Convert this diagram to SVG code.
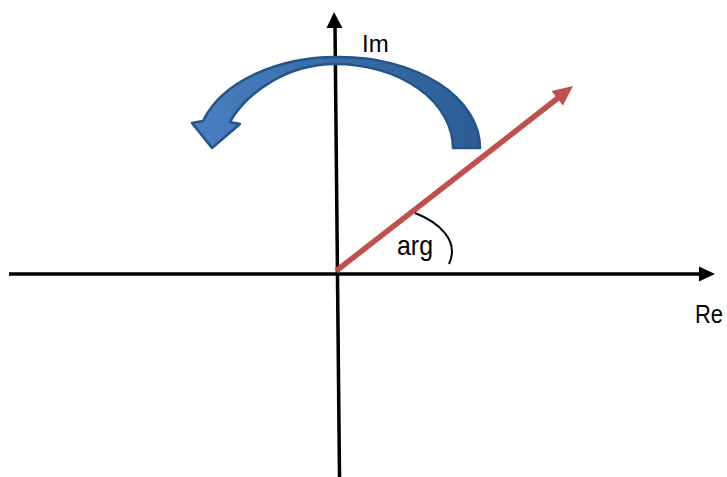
<svg xmlns="http://www.w3.org/2000/svg" width="727" height="477" viewBox="0 0 727 477">
<style>
.axis{stroke:#000;stroke-width:3.5;fill:none}
.head{fill:#000}
.lbl{font-family:"Liberation Sans",Arial,sans-serif;fill:#000}
</style>
<defs>
<linearGradient id="blue" x1="190" y1="0" x2="480" y2="0" gradientUnits="userSpaceOnUse">
<stop offset="0" stop-color="#4A80C2"/>
<stop offset="0.45" stop-color="#3A6DAA"/>
<stop offset="1" stop-color="#2C5D95"/>
</linearGradient>
</defs>
<rect width="727" height="477" fill="#fff"/>
<g id="connectors">
<g id="re-axis">
<line class="axis" x1="9" y1="274" x2="701" y2="274"/>
<polygon class="head" points="715,274 699,266.5 699,281.5"/>
</g>
<g id="im-axis">
<line class="axis" x1="339.5" y1="477" x2="335" y2="26"/>
<polygon class="head" points="334,12 326.5,28 342.5,28"/>
</g>
<g id="vector">
<line x1="336" y1="271" x2="558" y2="98" stroke="#C0504D" stroke-width="5.5"/>
<polygon points="573,86 551.5,91 562.9,105.6" fill="#C0504D"/>
</g>
<path id="arg-arc" d="M415,213 C438,222 460,240 449,264" fill="none" stroke="#000" stroke-width="2"/>
</g>
<g id="rotation-arrow">
<path d="M480,148 A140,91 0 0 0 340,57 A140,91 0 0 0 203,121 L192,123 L212,148 L240,124 L230,122 C245,95 285,64 335,64 A118,84 0 0 1 453,148 Z" fill="url(#blue)" stroke="#25548B" stroke-width="2.5" stroke-linejoin="round"/>
</g>
<g id="label-im"><text class="lbl" x="362" y="52" font-size="24">Im</text></g>
<g id="label-re"><text class="lbl" x="695" y="323" font-size="25" textLength="28" lengthAdjust="spacingAndGlyphs">Re</text></g>
<g id="label-arg"><text class="lbl" x="397" y="255" font-size="28" textLength="36" lengthAdjust="spacingAndGlyphs">arg</text></g>
</svg>
